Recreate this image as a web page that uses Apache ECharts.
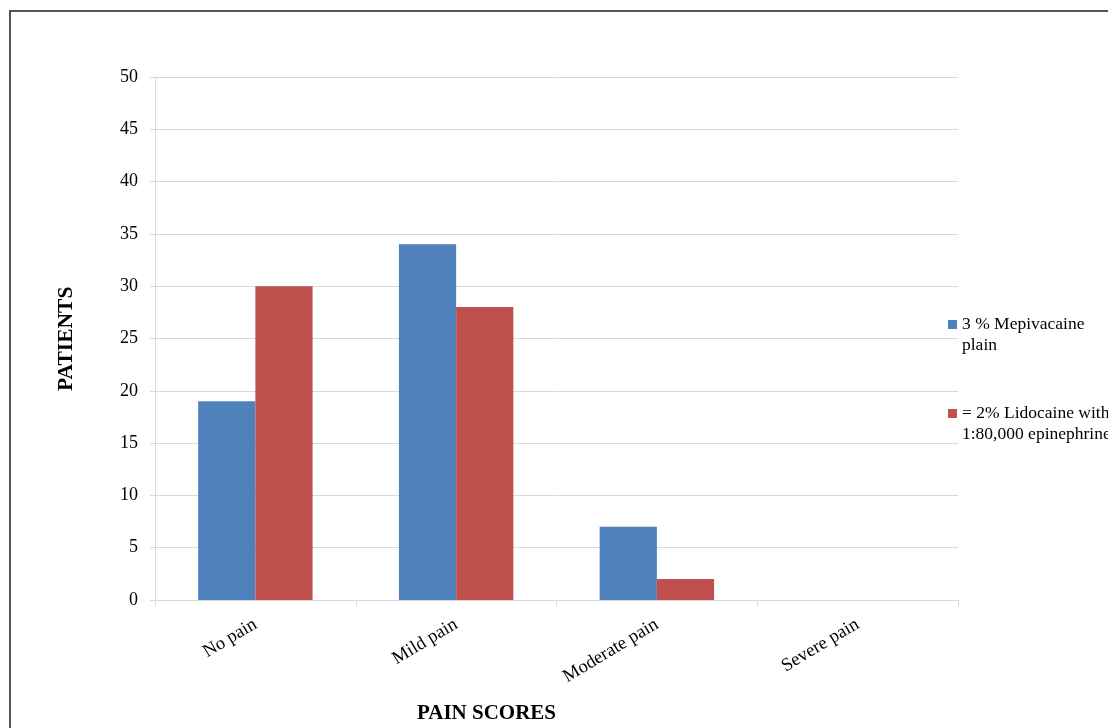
<!DOCTYPE html>
<html>
<head>
<meta charset="utf-8">
<script src="https://cdn.jsdelivr.net/npm/echarts@6/dist/echarts.min.js"></script>
<style>
html,body{margin:0;padding:0;background:#fff;}
#frame{position:absolute;left:9px;top:10px;width:1200px;height:800px;border-left:2px solid #555;border-top:2px solid #555;}
#chart{position:absolute;left:0;top:0;width:1108px;height:728px;}
</style>
</head>
<body>
<div id="frame"></div>
<div id="chart"></div>
<script>
const categories = ['No pain', 'Mild pain', 'Moderate pain', 'Severe pain'];
const mepivacaine = [19, 34, 7, 0];
const lidocaine = [30, 28, 2, 0];
const seriesNames = ['3 % Mepivacaine plain', '= 2% Lidocaine with 1:80,000 epinephrine'];
const legendLabels = {
  '3 % Mepivacaine plain': ' \n3 % Mepivacaine\nplain',
  '= 2% Lidocaine with 1:80,000 epinephrine': ' \n= 2% Lidocaine with\n1:80,000 epinephrine'
};
const yTicks = {min: 0, max: 50, interval: 5};

const serif = 'Liberation Serif';
const chart = echarts.init(document.getElementById('chart'), null, {renderer: 'canvas'});
chart.setOption({
  animation: false,
  backgroundColor: 'transparent',
  color: ['#4F81BD', '#C0504D'],
  grid: {left: 155, right: 150, top: 77, bottom: 128, containLabel: false},
  legend: {
    orient: 'vertical',
    left: 943,
    top: 288,
    itemWidth: 9,
    itemHeight: 9,
    itemGap: 26,
    icon: 'rect',
    textStyle: {fontFamily: serif, fontSize: 17.5, color: '#000', lineHeight: 21},
    formatter: n => legendLabels[n] || n,
    data: seriesNames
  },
  xAxis: {
    type: 'category',
    data: categories,
    axisLine: {show: true, lineStyle: {color: '#d9d9d9', width: 1}},
    axisTick: {show: true, length: 6, alignWithLabel: false, lineStyle: {color: '#d9d9d9'}},
    axisLabel: {fontFamily: serif, fontSize: 18.5, color: '#000', rotate: 31, margin: 23, interval: 0},
    splitLine: {show: false}
  },
  yAxis: {
    type: 'value',
    min: yTicks.min, max: yTicks.max, interval: yTicks.interval,
    axisLine: {show: true, lineStyle: {color: '#d9d9d9', width: 1}},
    axisTick: {show: true, length: 5, inside: false, lineStyle: {color: '#d9d9d9'}},
    axisLabel: {fontFamily: serif, fontSize: 18, color: '#000', margin: 17},
    splitLine: {show: true, lineStyle: {color: '#d9d9d9', width: 1}}
  },
  graphic: [
    {type: 'text', left: 417, top: 703, style: {text: 'PAIN SCORES', fontFamily: serif, fontSize: 21, fontWeight: 'bold', fill: '#000'}},
    {type: 'text', x: 55, y: 391, rotation: Math.PI/2, style: {text: 'PATIENTS', fontFamily: serif, fontSize: 21.5, fontWeight: 'bold', fill: '#000'}}
  ],
  series: [
    {name: seriesNames[0], type: 'bar', data: mepivacaine, barGap: '0%', barCategoryGap: '43%'},
    {name: seriesNames[1], type: 'bar', data: lidocaine, barGap: '0%', barCategoryGap: '43%'}
  ]
});
</script>
</body>
</html>
